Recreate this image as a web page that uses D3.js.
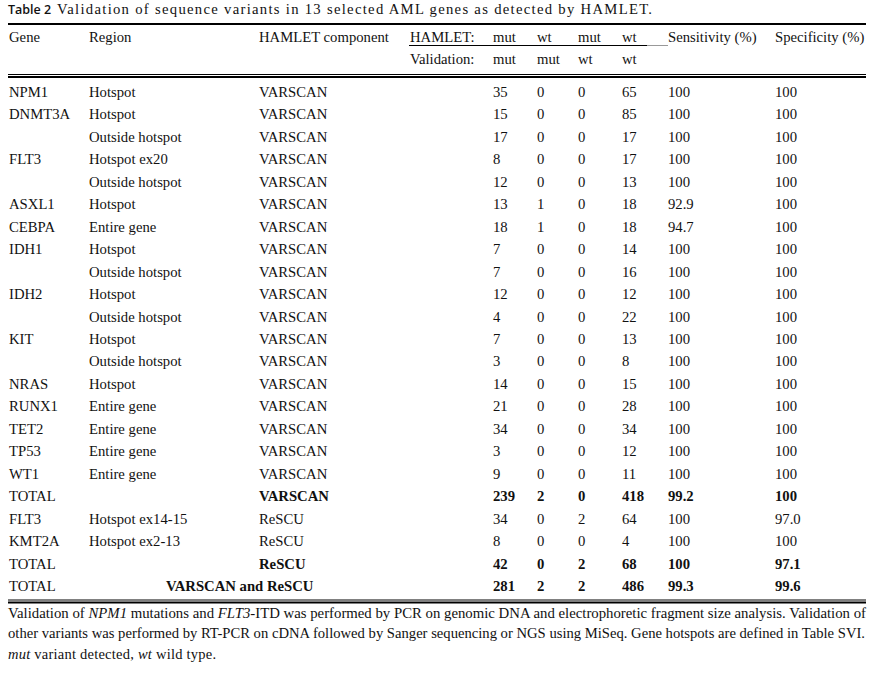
<!DOCTYPE html>
<html><head><meta charset="utf-8">
<script src="https://cdn.jsdelivr.net/npm/d3@7"></script>
<style>body{margin:0;background:#fff}svg{display:block}</style>
</head><body><div id="c"></div>
<script>
const genes = ["NPM1","DNMT3A","","FLT3","","ASXL1","CEBPA","IDH1","","IDH2","","KIT","","NRAS","RUNX1","TET2","TP53","WT1","TOTAL","FLT3","KMT2A","TOTAL","TOTAL"];
const regions = ["Hotspot","Hotspot","Outside hotspot","Hotspot ex20","Outside hotspot","Hotspot","Entire gene","Hotspot","Outside hotspot","Hotspot","Outside hotspot","Hotspot","Outside hotspot","Hotspot","Entire gene","Entire gene","Entire gene","Entire gene","","Hotspot ex14-15","Hotspot ex2-13","",""];
const components = ["VARSCAN","VARSCAN","VARSCAN","VARSCAN","VARSCAN","VARSCAN","VARSCAN","VARSCAN","VARSCAN","VARSCAN","VARSCAN","VARSCAN","VARSCAN","VARSCAN","VARSCAN","VARSCAN","VARSCAN","VARSCAN","VARSCAN","ReSCU","ReSCU","ReSCU","VARSCAN and ReSCU"];
const mutMut = [35,15,17,8,12,13,18,7,7,12,4,7,3,14,21,34,3,9,239,34,8,42,281];
const wtMut  = [0,0,0,0,0,1,1,0,0,0,0,0,0,0,0,0,0,0,2,0,0,0,2];
const mutWt  = [0,0,0,0,0,0,0,0,0,0,0,0,0,0,0,0,0,0,0,2,0,2,2];
const wtWt   = [65,85,17,17,13,18,18,14,16,12,22,13,8,15,28,34,12,11,418,64,4,68,486];
const sensitivity = ["100","100","100","100","100","92.9","94.7","100","100","100","100","100","100","100","100","100","100","100","99.2","100","100","100","99.3"];
const specificity = ["100","100","100","100","100","100","100","100","100","100","100","100","100","100","100","100","100","100","100","97.0","100","97.1","99.6"];
const isTotal = [0,0,0,0,0,0,0,0,0,0,0,0,0,0,0,0,0,0,1,0,0,1,1];
const headerTop = ["Gene","Region","HAMLET component","HAMLET:","mut","wt","mut","wt","Sensitivity (%)","Specificity (%)"];
const headerBottom = ["","","","Validation:","mut","mut","wt","wt","",""];

const W = 875, H = 679;
const serif = "'Liberation Serif','Times New Roman',serif";
const FS = 14.7;
const svg = d3.select("#c").append("svg").attr("width", W).attr("height", H);
svg.append("rect").attr("width", W).attr("height", H).attr("fill", "#fff");

const colKeys = ["gene","region","comp","lab","c1","c2","c3","c4","sens","spec"];
const colX = d3.scaleOrdinal().domain(colKeys).range([9, 89, 259, 410, 493, 537, 578, 622, 668, 775]);
const rows = d3.range(genes.length);
const y = d3.scalePoint().domain(rows).range([97, 591]);

// title
svg.append("text").attr("x", 8).attr("y", 13.5)
  .attr("font-family", "'Open Sans','Liberation Sans',sans-serif").attr("font-weight", 600)
  .attr("font-size", 12.5).attr("fill", "#111").text("Table 2");
svg.append("text").attr("x", 57).attr("y", 13.5).attr("font-family", serif).attr("font-size", FS)
  .attr("fill", "#111").attr("textLength", 595).attr("lengthAdjust", "spacing")
  .text("Validation of sequence variants in 13 selected AML genes as detected by HAMLET.");

function rule(y0, x0, x1, w, col) {
  svg.append("line").attr("x1", x0).attr("x2", x1).attr("y1", y0).attr("y2", y0)
    .attr("stroke", col || "#000").attr("stroke-width", w);
}
rule(24, 8, 866, 2.2);
rule(74.5, 8, 866, 1);
rule(77, 8, 866, 2);
rule(45.5, 409, 647, 1);
rule(45.5, 647, 668, 1, "#999");
rule(600, 8, 866, 1);
rule(602.5, 8, 866, 2);

const hdr = svg.append("g").attr("font-family", serif).attr("font-size", FS).attr("fill", "#111");
headerTop.forEach((t, i) => {
  hdr.append("text").attr("x", colX(colKeys[i])).attr("y", 42).text(t);
});
headerBottom.forEach((t, i) => {
  if (t) hdr.append("text").attr("x", colX(colKeys[i])).attr("y", 64).text(t);
});

const body = svg.append("g").attr("font-family", serif).attr("font-size", FS).attr("fill", "#111");
rows.forEach(i => {
  const yy = y(i);
  const b = isTotal[i] ? "bold" : "normal";
  const g = body.append("g");
  g.append("text").attr("x", colX("gene")).attr("y", yy).text(genes[i]);
  g.append("text").attr("x", colX("region")).attr("y", yy).text(regions[i]);
  g.append("text").attr("x", components[i].length > 8 ? 166 : colX("comp")).attr("y", yy)
    .attr("font-weight", b).text(components[i]);
  const vals = [mutMut[i], wtMut[i], mutWt[i], wtWt[i], sensitivity[i], specificity[i]];
  ["c1","c2","c3","c4","sens","spec"].forEach((k, j) => {
    g.append("text").attr("x", colX(k)).attr("y", yy).attr("font-weight", b).text(vals[j]);
  });
});

const foot = svg.append("g").attr("font-family", serif).attr("font-size", 14.5).attr("fill", "#111");
const fl1 = foot.append("text").attr("x", 8).attr("y", 618).attr("textLength", 858).attr("lengthAdjust", "spacingAndGlyphs");
fl1.append("tspan").text("Validation of ");
fl1.append("tspan").attr("font-style", "italic").text("NPM1");
fl1.append("tspan").text(" mutations and ");
fl1.append("tspan").attr("font-style", "italic").text("FLT3");
fl1.append("tspan").text("-ITD was performed by PCR on genomic DNA and electrophoretic fragment size analysis. Validation of");
foot.append("text").attr("x", 8).attr("y", 638).attr("textLength", 857).attr("lengthAdjust", "spacingAndGlyphs")
  .text("other variants was performed by RT-PCR on cDNA followed by Sanger sequencing or NGS using MiSeq. Gene hotspots are defined in Table SVI.");
const fl3 = foot.append("text").attr("x", 8).attr("y", 659).attr("textLength", 208).attr("lengthAdjust", "spacing");
fl3.append("tspan").attr("font-style", "italic").text("mut");
fl3.append("tspan").text(" variant detected, ");
fl3.append("tspan").attr("font-style", "italic").text("wt");
fl3.append("tspan").text(" wild type.");
</script></body></html>
